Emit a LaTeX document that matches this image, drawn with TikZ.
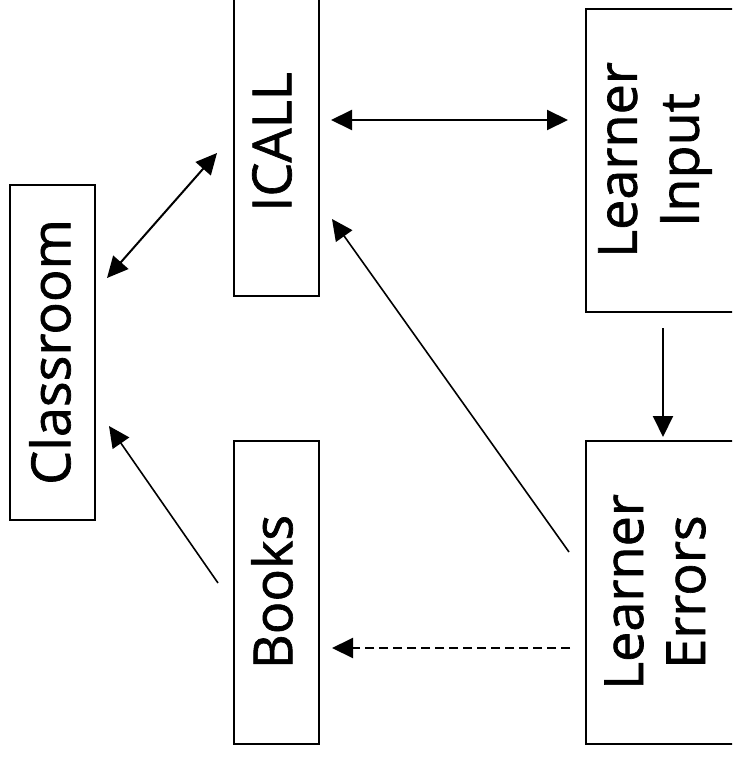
\documentclass[tikz,border=0pt]{standalone}
\usepackage{fontspec}
\setmainfont{Open Sans}[FakeBold=1.2]
\usetikzlibrary{arrows.meta,calc}
\tikzset{
  box/.style={draw, line width=2pt, inner sep=0pt, anchor=north west, rectangle},
  lbl/.style={rotate=90, font=\fontsize{54}{62}\selectfont, align=center, inner sep=0pt},
  tip/.style={-{Triangle[length=21pt,width=20pt]}},
  dtip/.style={{Triangle[length=21pt,width=20pt]}-{Triangle[length=21pt,width=20pt]}},
  conn/.style={line width=2pt},
  thin/.style={line width=1.6pt},
}
\begin{document}
\begin{tikzpicture}[x=1pt,y=-1pt]
\useasboundingbox (0,0) rectangle (732,757);
\begin{scope}
\clip (0,0) rectangle (732,757);
\node[box, minimum width=85pt, minimum height=335pt] (cls) at (9,184) {};
\node[box, minimum width=85pt, minimum height=305pt] (icall) at (233,-10) {};
\node[box, minimum width=85pt, minimum height=303pt] (books) at (233,440) {};
\node[box, minimum width=160pt, minimum height=303pt] (li) at (585,8) {};
\node[box, minimum width=160pt, minimum height=303pt] (le) at (585,440) {};
\end{scope}
\node[lbl] (clsT) at (50,352) {Classroom};
\node[lbl] (icallT) at (272,142) {ICALL};
\node[lbl] (booksT) at (272,592) {Books};
\node[lbl] (liT) at (655,160) {Learner\\Input};
\node[lbl] (leT) at (655,592) {Learner\\Errors};

\draw[conn,dtip] ($(cls.north east)+(11,94)$) -- ($(icall.north west)+(-16,163)$);
\draw[conn,dtip] ($(icall.north east)+(11,130)$) -- ($(li.north west)+(-17,112)$);
\draw[conn,tip] ($(li.south west)+(78,15)$) -- ($(le.north west)+(78,-3)$);
\draw[thin,tip] ($(le.north west)+(-16,112)$) -- ($(icall.south east)+(12,-78)$);
\draw[thin,tip] ($(books.north west)+(-15,143)$) -- ($(cls.south east)+(13,-95)$);
\draw[conn,tip,dash pattern=on 9pt off 5pt] ($(le.north west)+(-15,208)$) -- ($(books.north east)+(12,208)$);
\end{tikzpicture}
\end{document}
